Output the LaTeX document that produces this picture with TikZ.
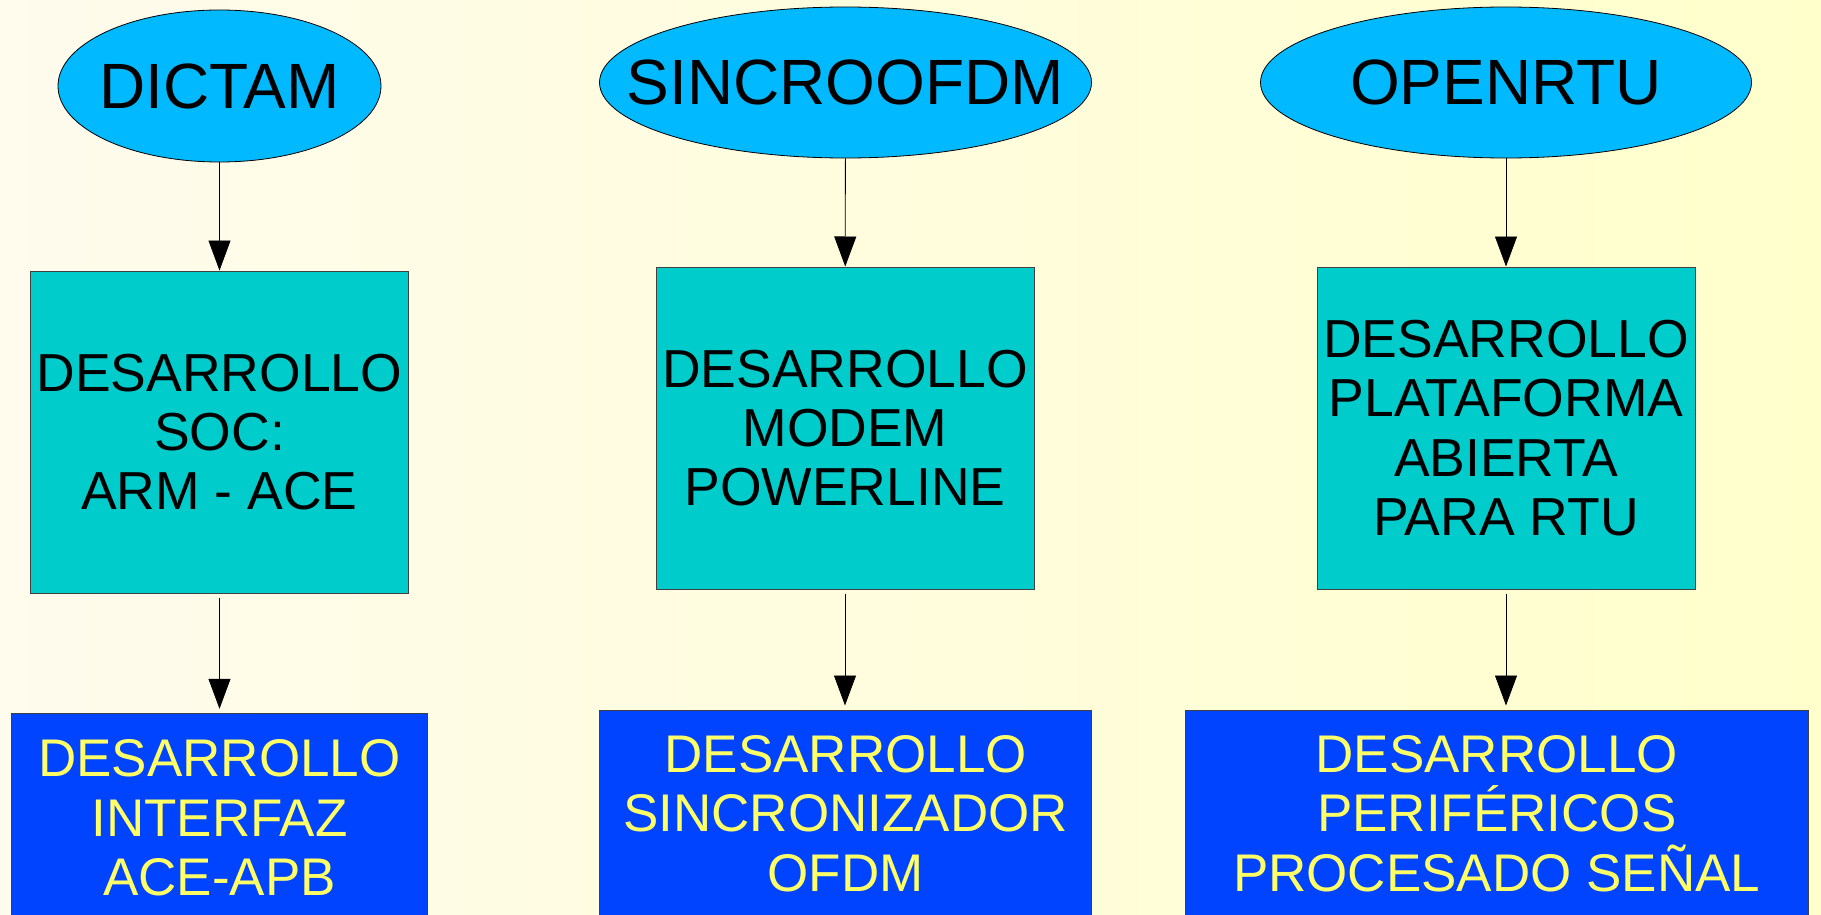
\documentclass[tikz,border=0pt]{standalone}
\usepackage{fontspec}
\setmainfont{Liberation Sans}
\usetikzlibrary{shapes.geometric,arrows.meta}
\definecolor{bgL}{RGB}{255,251,237}
\definecolor{bgR}{RGB}{255,255,204}
\definecolor{ellfill}{RGB}{0,185,255}
\definecolor{tealfill}{RGB}{0,204,204}
\definecolor{bluefill}{RGB}{0,68,255}
\definecolor{yellowtxt}{RGB}{255,255,102}
\tikzset{
  proj/.style={ellipse, draw=black, line width=0.8pt, fill=ellfill, inner sep=0pt,
    font=\fontsize{64}{70}\selectfont},
  tealbox/.style={rectangle, draw=black!75, line width=1pt, fill=tealfill, inner sep=0pt,
    align=center, text=black, font=\fontsize{53.5}{59.3}\selectfont},
  bluebox/.style={rectangle, draw=black!75, line width=1pt, fill=bluefill, inner sep=0pt,
    align=center, text=yellowtxt, font=\fontsize{53}{59.3}\selectfont},
  arr/.style={draw=black, line width=0.8pt, -{Triangle[length=30pt,width=22pt]}}
}
\begin{document}
\begin{tikzpicture}[x=1pt,y=-1pt]
\useasboundingbox (0,0) rectangle (1821,915);
\shade[left color=bgL, right color=bgR] (0,0) rectangle (1821,915);

\node[proj, minimum width=323pt, minimum height=152pt] (e1) at (219.5,86) {\makebox[0pt]{DICTAM}};
\node[proj, minimum width=492pt, minimum height=151pt] (e2) at (845.5,82.5) {\makebox[0pt]{SINCROOFDM}};
\node[proj, minimum width=491pt, minimum height=151pt] (e3) at (1506,82.5) {\makebox[0pt]{OPENRTU}};

\node[tealbox, minimum width=378.5pt, minimum height=322pt] (t1) at (219.5,432) {DESARROLLO\\SOC:\\ARM - ACE};
\node[tealbox, minimum width=378pt, minimum height=322pt] (t2) at (845,428) {DESARROLLO\\MODEM\\POWERLINE};
\node[tealbox, minimum width=378pt, minimum height=322pt] (t3) at (1506,428) {DESARROLLO\\PLATAFORMA\\ABIERTA\\PARA RTU};

\node[bluebox, minimum width=415.6pt, minimum height=209pt] (b1) at (219.4,817.8) {DESARROLLO\\INTERFAZ\\ACE-APB};
\node[bluebox, minimum width=492pt, minimum height=207pt] (b2) at (845.6,813.5) {DESARROLLO\\SINCRONIZADOR\\OFDM};
\node[bluebox, minimum width=623.4pt, minimum height=207pt] (b3) at (1496.7,813.5) {DESARROLLO\\PERIFÉRICOS\\PROCESADO SEÑAL};

\draw[arr] (e1) -- (t1);
\draw[arr] (e2) -- (t2);
\draw[arr] (e3) -- (t3);
\draw[arr, shorten <=4pt, shorten >=4pt] (t1.south) -- (t1.south |- b1.north);
\draw[arr, shorten <=4pt, shorten >=4pt] (t2.south) -- (t2.south |- b2.north);
\draw[arr, shorten <=4pt, shorten >=4pt] (t3.south) -- (t3.south |- b3.north);
\end{tikzpicture}
\end{document}
